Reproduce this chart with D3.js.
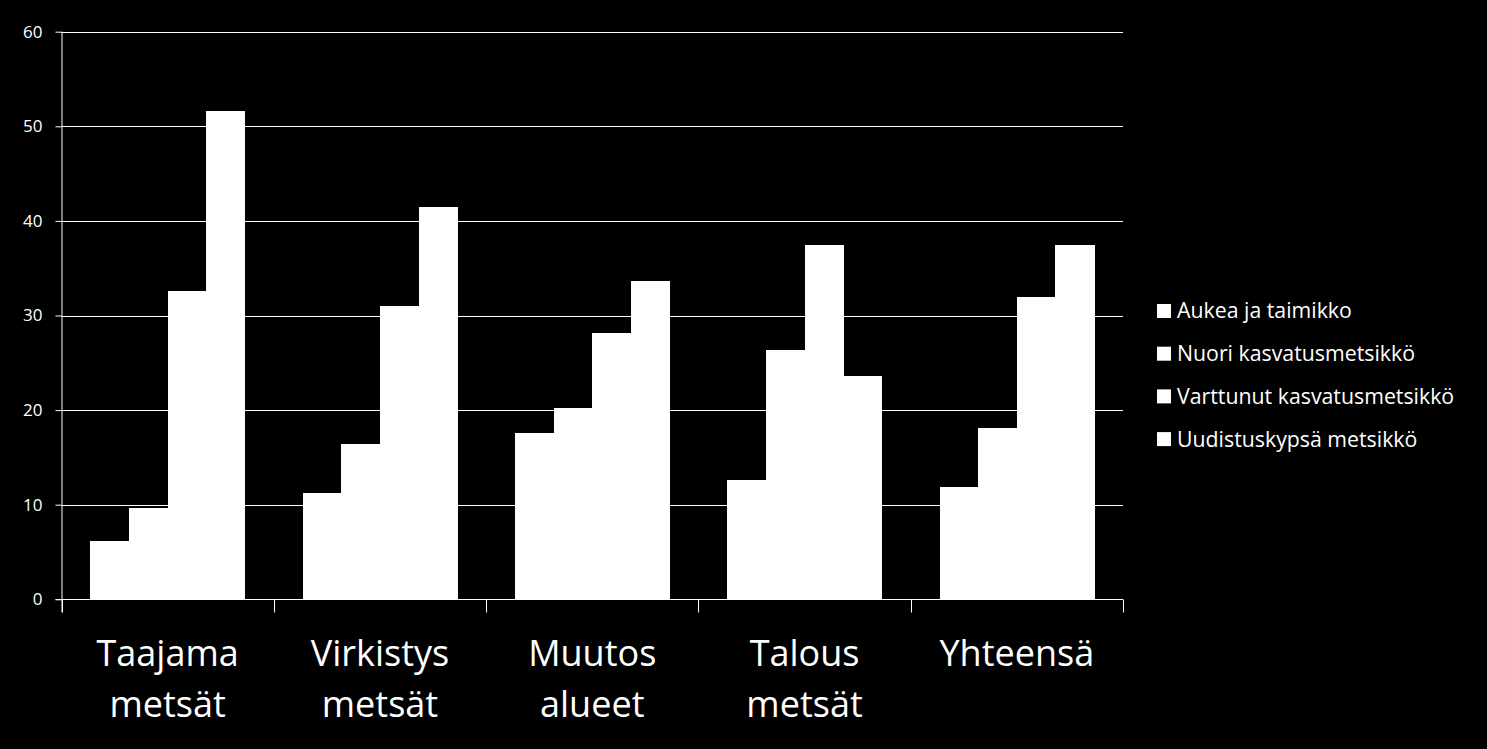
<!DOCTYPE html>
<html>
<head>
<meta charset="utf-8">
<script src="https://cdn.jsdelivr.net/npm/d3@7"></script>
<style>
  html, body { margin: 0; padding: 0; background: #000; }
  svg { display: block; }
  text { font-family: "Open Sans", "Noto Sans", sans-serif; fill: #fff; }
</style>
</head>
<body>
<svg width="1487" height="749"></svg>
<script>
// data
const categories = [
  ["Taajama", "metsät"],
  ["Virkistys", "metsät"],
  ["Muutos", "alueet"],
  ["Talous", "metsät"],
  ["Yhteensä"],
];
const seriesNames = [
  "Aukea ja taimikko",
  "Nuori kasvatusmetsikkö",
  "Varttunut kasvatusmetsikkö",
  "Uudistuskypsä metsikkö",
];
const aukea = [6.2, 11.2, 17.6, 12.6, 11.9];
const nuori = [9.7, 16.4, 20.2, 26.4, 18.1];
const varttunut = [32.6, 31.0, 28.1, 37.5, 32.0];
const uudistus = [51.6, 41.5, 33.6, 23.6, 37.5];
const yTicks = [0, 10, 20, 30, 40, 50, 60];

const series = [aukea, nuori, varttunut, uudistus];

const svg = d3.select("svg");
const plotLeft = 61.5, plotRight = 1123, plotTop = 31.7, plotBottom = 599.3;

const x0 = d3.scaleBand()
  .domain(d3.range(categories.length))
  .range([plotLeft, plotRight]);

// gap width 150%: 0.75 bar width on each side of the group
const gap = x0.bandwidth() * 0.75 / 5.5;
const x1 = d3.scaleBand()
  .domain(d3.range(series.length))
  .range([gap, x0.bandwidth() - gap]);

const y = d3.scaleLinear().domain([0, 60]).range([plotBottom, plotTop]);

// gridlines
svg.append("g")
  .selectAll("line")
  .data(yTicks.slice(1))
  .join("line")
  .attr("x1", plotLeft).attr("x2", plotRight)
  .attr("y1", (d) => Math.round(y(d)) + 0.5)
  .attr("y2", (d) => Math.round(y(d)) + 0.5)
  .attr("stroke", "#fff")
  .attr("stroke-width", 1);

// bars
svg.append("g")
  .attr("shape-rendering", "crispEdges")
  .selectAll("g")
  .data(series)
  .join("g")
  .selectAll("rect")
  .data((vals, si) => vals.map((v, ci) => ({ v, ci, si })))
  .join("rect")
  .attr("x", (d) => x0(d.ci) + x1(d.si))
  .attr("width", x1.bandwidth() + 0.5)
  .attr("y", (d) => y(d.v))
  .attr("height", (d) => y(0) - y(d.v))
  .attr("fill", "#fff");

// y axis
const yAxis = d3.axisLeft(y)
  .tickValues(yTicks)
  .tickSize(6)
  .tickPadding(13);
const yg = svg.append("g")
  .attr("transform", `translate(${plotLeft},0)`)
  .call(yAxis);
yg.select(".domain").attr("stroke", "#fff").attr("d", `M0.5,${plotTop}V${plotBottom + 13}`);
yg.selectAll(".tick line").attr("stroke", "#fff");
yg.selectAll(".tick text")
  .attr("fill", "#fff")
  .style("font-family", '"Open Sans", sans-serif')
  .style("font-size", "17px");

// x axis line + ticks
const xg = svg.append("g").attr("transform", `translate(0,${Math.round(plotBottom) + 0.5})`);
xg.append("line")
  .attr("x1", plotLeft - 6).attr("x2", plotRight)
  .attr("stroke", "#fff");
xg.selectAll(".xtick")
  .data(d3.range(categories.length + 1))
  .join("line")
  .attr("class", "xtick")
  .attr("x1", (i) => Math.round(plotLeft + i * x0.bandwidth()) + 0.5)
  .attr("x2", (i) => Math.round(plotLeft + i * x0.bandwidth()) + 0.5)
  .attr("y1", 0).attr("y2", 13)
  .attr("stroke", "#fff");

// category labels
const labels = svg.append("g")
  .selectAll("text")
  .data(categories)
  .join("text")
  .attr("text-anchor", "middle")
  .attr("x", (d, i) => x0(i) + x0.bandwidth() / 2)
  .attr("y", 666)
  .style("font-size", "36px");
labels.selectAll("tspan")
  .data((d) => d)
  .join("tspan")
  .attr("x", function () { return this.parentNode.getAttribute("x"); })
  .attr("dy", (d, i) => (i === 0 ? 0 : 51))
  .text((d) => d);

// legend
const legend = svg.append("g")
  .selectAll("g")
  .data(seriesNames)
  .join("g")
  .attr("transform", (d, i) => `translate(1157,${311 + i * 42.7})`);
legend.append("rect")
  .attr("x", 0).attr("y", -7)
  .attr("width", 14).attr("height", 14)
  .attr("fill", "#fff");
legend.append("text")
  .attr("x", 20)
  .attr("dy", "0.35em")
  .style("font-size", "21.3px")
  .text((d) => d);
</script>
</body>
</html>
